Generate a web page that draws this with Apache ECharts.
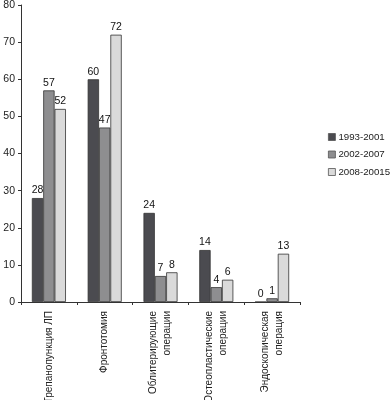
<!DOCTYPE html>
<html><head><meta charset="utf-8">
<script src="https://cdn.jsdelivr.net/npm/echarts@6/dist/echarts.min.js"></script>
<style>html,body{margin:0;padding:0;background:#fff}#c{width:392px;height:400px}</style>
</head><body><div id="c"></div>
<script>
const categories = ['Трепанопункция ЛП','Фронтотомия','Облитерирующие\nоперации','Остеопластические\nоперации','Эндоскопическая\nоперация'];
const seriesNames = ['1993-2001','2002-2007','2008-20015'];
const s1 = [28, 60, 24, 14, 0];
const s2 = [57, 47, 7, 4, 1];
const s3 = [52, 72, 8, 6, 13];
const yTicks = [0,10,20,30,40,50,60,70,80];
const colors = ['#4b4b50','#8e8e90','#dadada'];
const chart = echarts.init(document.getElementById('c'));
const font = "'Liberation Sans', Arial, sans-serif";
const mk = (name, data, i) => ({
  name, type: 'bar', data, barGap: '0%', barCategoryGap: '39%',
  itemStyle: {color: colors[i], borderColor: '#333', borderWidth: 0.8},
  label: {show: true, position: 'top', color: '#111', fontSize: 10.5, fontFamily: font, distance: 2},
  animation: false
});
chart.setOption({
  animation: false,
  grid: {left: 21, right: 92, top: 5, bottom: 98, containLabel: false, outerBoundsMode: 'none'},
  legend: {
    orient: 'vertical', left: 328, top: 131, itemWidth: 7, itemHeight: 7, itemGap: 5.5, padding: 0,
    icon: 'rect', textStyle: {fontSize: 9.7, lineHeight: 12, fontFamily: font, color: '#222', padding: [0,0,0,-2]},
    data: seriesNames.map((n,i)=>({name:n, itemStyle:{borderColor:'#555',borderWidth:0.8}}))
  },
  xAxis: {
    type: 'category', data: categories,
    axisLine: {lineStyle: {color: '#333', width: 1}},
    axisTick: {show: true, length: 3, lineStyle: {color: '#333'}},
    axisLabel: {rotate: 90, fontSize: 10, fontFamily: font, color: '#222', margin: 9, lineHeight: 14, interval: 0}
  },
  yAxis: {
    type: 'value', min: 0, max: 80, interval: 10,
    axisLine: {show: true, lineStyle: {color: '#333', width: 1}},
    axisTick: {show: true, length: 3, lineStyle: {color: '#333'}},
    splitLine: {show: false},
    axisLabel: {fontSize: 10.5, fontFamily: font, color: '#222', margin: 6,
      formatter: v => yTicks.includes(v) ? String(v) : ''}
  },
  series: [mk(seriesNames[0], s1, 0), mk(seriesNames[1], s2, 1), mk(seriesNames[2], s3, 2)]
});
</script></body></html>
